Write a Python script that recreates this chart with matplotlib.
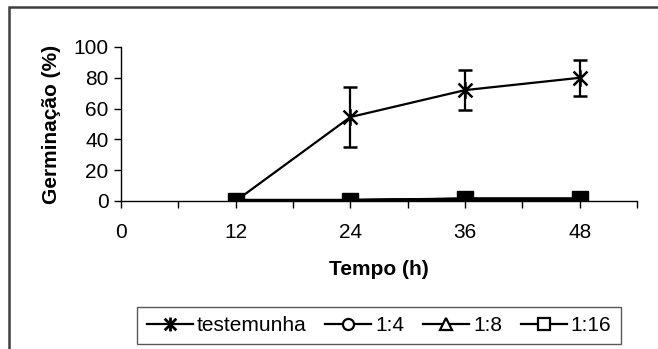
import matplotlib
matplotlib.use("Agg")
import matplotlib.pyplot as plt
from matplotlib.lines import Line2D
from matplotlib.patches import Rectangle
from matplotlib.path import Path

plt.rcParams['font.family'] = ['Liberation Sans', 'DejaVu Sans']

tempo = [12, 24, 36, 48]
testemunha = [0, 54.5, 72, 80]
testemunha_err_lo = [0, 19.5, 13, 11.5]
testemunha_err_hi = [0, 19.5, 13, 11.5]
s_1_4 = [0, 0, 0.8, 0.8]
s_1_8 = [0, 0, 0.8, 0.8]
s_1_16 = [0, 0, 1.0, 1.0]
labels = ["testemunha", "1:4", "1:8", "1:16"]

# excel-like star: an X with a vertical bar
star = Path([(-1, -1), (1, 1), (-1, 1), (1, -1), (0, -1.2), (0, 1.2)],
            [Path.MOVETO, Path.LINETO, Path.MOVETO, Path.LINETO, Path.MOVETO, Path.LINETO])

fig = plt.figure(figsize=(6.58, 3.49), dpi=100)
ax = fig.add_axes([121 / 658, 1 - 201 / 349, (637 - 121) / 658, (201 - 47) / 349])

# outer chart border (only top/left visible in the reference)
fig.patches.append(Rectangle((8.5 / 658, -0.1), 1.2, 1 - 7.5 / 349 + 0.1,
                             transform=fig.transFigure, fill=False,
                             edgecolor="#404040", linewidth=1.8))

ax.errorbar(tempo, testemunha, yerr=[testemunha_err_lo, testemunha_err_hi],
            color="black", lw=1.6, marker=star, ms=12, mew=1.8,
            capsize=5, elinewidth=1.6, capthick=1.6, zorder=2)
ax.plot(tempo, s_1_4, color="black", lw=3, marker="o", ms=11, mfc="black", zorder=3)
ax.plot(tempo, s_1_8, color="black", lw=3, marker="^", ms=11, mfc="black", zorder=3)
ax.plot(tempo, s_1_16, color="black", lw=3, marker="s", ms=11, mfc="black", zorder=3)

ax.set_xlim(0, 54)
ax.set_ylim(0, 100)
ax.set_xticks(range(0, 55, 6))
ax.set_xticklabels([str(t) if t % 12 == 0 else "" for t in range(0, 55, 6)])
ax.set_yticks(range(0, 101, 20))
for s in ["top", "right"]:
    ax.spines[s].set_visible(False)
ax.spines["left"].set_linewidth(1.0)
ax.spines["bottom"].set_linewidth(1.0)
ax.tick_params(axis="both", labelsize=15, length=5, width=1.0, direction="out")
ax.tick_params(axis="x", pad=11)
ax.tick_params(axis="y", pad=4)

ax.set_xlabel("Tempo (h)", fontsize=15, fontweight="bold", labelpad=13)
ax.set_ylabel("Germinação (%)", fontsize=15, fontweight="bold", labelpad=9)

handles = [
    Line2D([], [], color="black", lw=1.6, marker=star, ms=10, mew=2),
    Line2D([], [], color="black", lw=1.6, marker="o", ms=8, mfc="white", mew=1.6),
    Line2D([], [], color="black", lw=1.6, marker="^", ms=8, mfc="white", mew=1.6),
    Line2D([], [], color="black", lw=1.6, marker="s", ms=8, mfc="white", mew=1.6),
]
leg = fig.legend(handles, labels, loc="center", bbox_to_anchor=(379 / 658, 1 - 325.5 / 349),
                 ncol=4, fontsize=15, frameon=True, fancybox=False, handlelength=2.2,
                 handletextpad=0.2, columnspacing=0.9, borderpad=0.45)
leg.get_frame().set_edgecolor("#303030")
leg.get_frame().set_linewidth(1.0)

fig.savefig("out.png", dpi=100)
